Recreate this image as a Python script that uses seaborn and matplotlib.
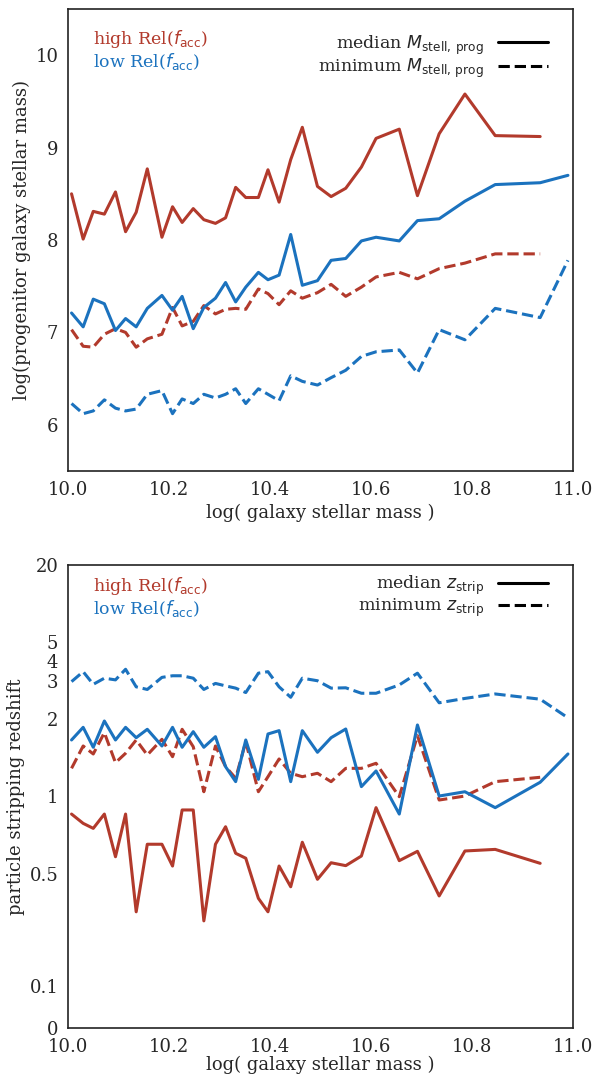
import numpy as np
import pandas as pd
import matplotlib
matplotlib.use('Agg')
import matplotlib.pyplot as plt
from matplotlib.lines import Line2D
import seaborn as sns

# galaxy stellar mass bins (shared by both samples, low-Rel has one extra bin)
log_mgal = [10.007, 10.030, 10.050, 10.072, 10.094, 10.114, 10.135, 10.157, 10.186,
            10.207, 10.226, 10.248, 10.269, 10.292, 10.312, 10.332, 10.352, 10.377,
            10.396, 10.418, 10.441, 10.464, 10.494, 10.521, 10.550, 10.581, 10.610,
            10.656, 10.692, 10.735, 10.786, 10.846, 10.935, 10.990]

# top panel: log progenitor stellar mass
high_med_mprog = [8.50, 8.01, 8.31, 8.28, 8.52, 8.09, 8.30, 8.77, 8.03, 8.36, 8.19,
                  8.34, 8.22, 8.18, 8.24, 8.57, 8.46, 8.46, 8.76, 8.41, 8.87, 9.22,
                  8.58, 8.47, 8.56, 8.79, 9.10, 9.20, 8.48, 9.15, 9.58, 9.13, 9.12]
high_min_mprog = [7.03, 6.85, 6.84, 6.98, 7.04, 7.00, 6.84, 6.93, 6.98, 7.27, 7.07,
                  7.12, 7.29, 7.20, 7.25, 7.26, 7.25, 7.47, 7.42, 7.30, 7.45, 7.37,
                  7.43, 7.52, 7.39, 7.49, 7.60, 7.65, 7.58, 7.69, 7.75, 7.85, 7.85]
low_med_mprog = [7.21, 7.06, 7.36, 7.31, 7.02, 7.15, 7.06, 7.26, 7.40, 7.24, 7.39,
                 7.04, 7.27, 7.37, 7.54, 7.33, 7.49, 7.65, 7.57, 7.62, 8.06, 7.51,
                 7.56, 7.78, 7.80, 7.99, 8.03, 7.99, 8.21, 8.23, 8.42, 8.60, 8.62, 8.70]
low_min_mprog = [6.23, 6.12, 6.15, 6.27, 6.18, 6.15, 6.17, 6.33, 6.37, 6.12, 6.28,
                 6.23, 6.33, 6.29, 6.33, 6.39, 6.23, 6.39, 6.33, 6.26, 6.53, 6.47,
                 6.43, 6.51, 6.59, 6.74, 6.79, 6.81, 6.56, 7.03, 6.92, 7.26, 7.16, 7.78]

# bottom panel: stripping redshift
high_med_zstrip = [0.859, 0.792, 0.758, 0.859, 0.587, 0.859, 0.335, 0.658, 0.658, 0.538,
                   0.890, 0.890, 0.301, 0.658, 0.769, 0.606, 0.579, 0.389, 0.335, 0.538,
                   0.439, 0.670, 0.473, 0.555, 0.540, 0.591, 0.908, 0.566, 0.617, 0.399,
                   0.619, 0.628, 0.552]
high_min_zstrip = [1.277, 1.558, 1.450, 1.761, 1.342, 1.459, 1.646, 1.437, 1.656, 1.415,
                   1.818, 1.548, 1.042, 1.558, 1.296, 1.171, 1.620, 1.042, 1.187, 1.387,
                   1.223, 1.187, 1.223, 1.137, 1.277, 1.277, 1.335, 0.998, 1.712, 0.970,
                   1.004, 1.137, 1.181]
low_med_zstrip = [1.646, 1.852, 1.540, 1.968, 1.646, 1.852, 1.681, 1.818, 1.558, 1.852,
                  1.540, 1.778, 1.540, 1.697, 1.296, 1.137, 1.646, 1.160, 1.740, 1.795,
                  1.137, 1.795, 1.472, 1.681, 1.823, 1.089, 1.248, 0.859, 1.894, 1.004,
                  1.042, 0.908, 1.131, 1.450]
low_min_zstrip = [2.97, 3.34, 2.88, 3.09, 3.03, 3.44, 2.80, 2.72, 3.12, 3.18, 3.18,
                  3.09, 2.72, 2.91, 2.83, 2.76, 2.63, 3.28, 3.34, 2.80, 2.50, 3.09,
                  3.00, 2.76, 2.77, 2.61, 2.61, 2.86, 3.28, 2.36, 2.47, 2.59, 2.45, 2.03]

xticks = [10.0, 10.2, 10.4, 10.6, 10.8, 11.0]
top_yticks = [6, 7, 8, 9, 10]
# tick places as they sit in the reference (the "4" and "20" labels are set
# at rounded scale-factor positions there, not at the exact redshifts)
z_top = 1e6
z_ticks = [0, 0.1, 0.5, 1, 2, 3, 3.8, 5, z_top]
z_tick_labels = ['0', '0.1', '0.5', '1', '2', '3', '4', '5', '20']

RED = '#B23A2C'
BLUE = '#1B72BE'
LW = 2.2
DASH = (0, (3.7, 1.6))

sns.set_style('white')
plt.rcParams['font.family'] = ['DejaVu Serif']
plt.rcParams['mathtext.fontset'] = 'dejavusans'
plt.rcParams['axes.edgecolor'] = '#222222'
plt.rcParams['axes.linewidth'] = 1.2


def draw(ax, y, color, dashed):
    n = len(y)
    df = pd.DataFrame({'x': log_mgal[:n], 'y': y})
    line = sns.lineplot(data=df, x='x', y='y', ax=ax, color=color, lw=LW,
                        sort=False, legend=False)
    if dashed:
        line.lines[-1].set_linestyle(DASH)


def zfwd(z):
    z = np.asarray(z, dtype=float)
    with np.errstate(divide='ignore', invalid='ignore'):
        return z / (1.0 + z)


def zinv(f):
    f = np.asarray(f, dtype=float)
    with np.errstate(divide='ignore', invalid='ignore'):
        return f / (1.0 - f)


def sample_labels(ax, ytop, dy):
    ax.text(0.05, ytop, r'high Rel($f_{\rm acc}$)', color=RED, fontsize=12.5,
            transform=ax.transAxes, va='center', ha='left')
    ax.text(0.05, ytop - dy, r'low Rel($f_{\rm acc}$)', color=BLUE, fontsize=12.5,
            transform=ax.transAxes, va='center', ha='left')


def stat_legend(ax, name, anchor):
    handles = [Line2D([], [], color='black', lw=LW, ls='-'),
               Line2D([], [], color='black', lw=LW, ls=DASH)]
    ax.legend(handles, ['median ' + name, 'minimum ' + name], loc='upper right',
              frameon=False, markerfirst=False, fontsize=12.5, handlelength=2.9,
              borderaxespad=0.6, labelspacing=0.0, bbox_to_anchor=anchor)


fig = plt.figure(figsize=(5.95, 10.77), dpi=100)
ax1 = fig.add_axes([0.1143, 0.5627, 0.8487, 0.4289])
ax2 = fig.add_axes([0.1143, 0.0455, 0.8487, 0.4299])

# top panel
draw(ax1, high_med_mprog, RED, False)
draw(ax1, high_min_mprog, RED, True)
draw(ax1, low_med_mprog, BLUE, False)
draw(ax1, low_min_mprog, BLUE, True)
ax1.set_xlim(10.0, 11.0)
ax1.set_ylim(5.5, 10.5)
ax1.set_xticks(xticks)
ax1.set_xticklabels([f'{t:.1f}' for t in xticks])
ax1.set_yticks(top_yticks)
ax1.set_xlabel('log( galaxy stellar mass )', fontsize=13, labelpad=4)
ax1.set_ylabel('log(progenitor galaxy stellar mass)', fontsize=13, labelpad=3)
ax1.tick_params(labelsize=13)
sample_labels(ax1, 0.935, 0.049)
stat_legend(ax1, r'$M_{\rm stell,\,prog}$', (0.985, 0.985))

# bottom panel
ax2.set_yscale('function', functions=(zfwd, zinv))
draw(ax2, high_med_zstrip, RED, False)
draw(ax2, high_min_zstrip, RED, True)
draw(ax2, low_med_zstrip, BLUE, False)
draw(ax2, low_min_zstrip, BLUE, True)
ax2.set_xlim(10.0, 11.0)
ax2.set_ylim(0, z_top)
ax2.set_yticks(z_ticks)
ax2.set_yticklabels(z_tick_labels)
ax2.minorticks_off()
ax2.set_xticks(xticks)
ax2.set_xticklabels([f'{t:.1f}' for t in xticks])
ax2.set_xlabel('log( galaxy stellar mass )', fontsize=13, labelpad=0)
ax2.set_ylabel('particle stripping redshift', fontsize=13, labelpad=3)
ax2.tick_params(labelsize=13)
sample_labels(ax2, 0.955, 0.05)
stat_legend(ax2, r'$z_{\rm strip}$', (0.985, 1.018))

fig.savefig('out.png', dpi=100)
